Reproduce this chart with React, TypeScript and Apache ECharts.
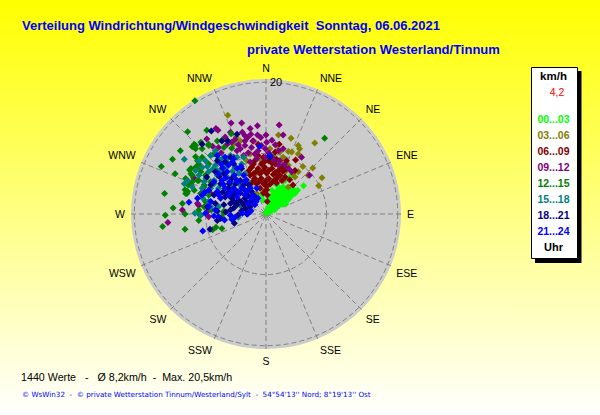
import React, { useEffect, useRef } from "react";
import * as echarts from "echarts";

const DIRECTIONS = ["N","NNE","NE","ENE","E","ESE","SE","SSE","S","SSW","SW","WSW","W","WNW","NW","NNW"];
const RINGS = [9.2, 20];
const RADIUS_LABELS = [20];
const TITLE = "Verteilung Windrichtung/Windgeschwindigkeit  Sonntag, 06.06.2021";
const SUBTITLE = "private Wetterstation Westerland/Tinnum";
const STATS = "1440 Werte   -   Ø 8,2km/h  -  Max. 20,5km/h";
const FOOTER = "© WsWin32  -  © private Wetterstation Tinnum/Westerland/Sylt  -  54°54'13'' Nord; 8°19'13'' Ost";

// Wind vectors: [east, north] in km/h
const h00_03 = [[0,0.1],[0.2,0.6],[0.4,1.1],[0.9,0.6],[0.6,1.7],[1.1,1.2],[1.6,1.7],[1.2,2.2],[2.1,2.1],[1.9,2.7],[2.5,2.6],[2.9,3.2],[2.2,3.3],[3.4,2.9],[3.7,3.4],[4.4,3.5],[3.1,3.9],[2.6,4.1],[1.6,3.4],[1,2.9],[0.6,2.4],[2.1,3.9],[1.5,0.9],[2.7,1.9],[3.4,2.2],[4.8,3.6],[5.7,4.3],[3.7,5.7],[2.9,5.1],[-1,5.1],[-0.6,2.9],[-0.4,2.1],[1.6,4.4],[1.3,1.7],[2,1.3],[2.4,3],[3.1,2.5],[3.9,2.9],[1.5,2.4],[1.0,1.9],[0.9,3.6],[1.9,3.1],[3.3,3.5],[4.1,3.1],[2.9,2.0],[4,3.9],[1.2,2.9],[1.8,2.2],[2.4,1.5],[3,1.5],[0.8,1.3],[1.3,0.6],[2.2,2.5],[2.8,3.5],[4.4,3.1],[3.7,2.6],[0.5,0.3]];
const h03_06 = [[3.8,11.5],[7.4,10.8],[1.9,12],[4.9,10.4],[5.1,9.9],[3.4,9.5],[3.9,9.4],[4.9,9.1],[1.7,10.4],[2.1,9.4],[1.1,8.9],[5.6,7.2],[7.1,7],[6.4,5.9],[8.5,5.5],[8,4.3],[4.9,6.4],[3.4,7.4],[4.1,6.1],[2.4,7.6],[2.9,6.4],[3.4,4.1],[-5.8,15],[-4.5,11.6],[-4.9,10.6],[-3.9,11.1],[2.6,8.6],[1.6,8.1],[-2.2,7.1],[-1.8,5.9],[-2.9,8.1],[0.6,9.9],[-0.7,8.1],[1.9,5.9],[4.4,5.6],[-2.4,9.1],[3.1,7.6],[2.6,5.1],[-1.4,3.1],[-0.2,3.6]];
const h06_09 = [[0.2,1.9],[4.1,4.4],[4.5,8.2],[2,10.6],[-2,11.1],[-1.2,10.6],[3.1,6.9],[-1.7,8.1],[-0.7,7.6],[0.4,8.1],[1.4,7.6],[2.4,7.1],[-2.2,7.1],[-1.2,6.9],[-0.2,7.1],[0.9,6.9],[1.9,6.6],[-1.9,6.1],[-0.9,6.1],[0.1,6.2],[1.1,6],[2.1,5.9],[-1.7,5.4],[-0.7,5.4],[0.4,5.4],[1.4,5.2],[-1.4,4.6],[-0.4,4.6],[0.6,4.5],[1.6,4.7],[-0.9,3.9],[0.1,3.7],[0.2,2.9],[-1.9,7.6],[2.4,5.1],[2.9,5.6],[-2.4,5.9],[-2.6,6.6],[-0.4,8.6],[1.4,9.4],[0.6,8.9],[-1.2,8.9],[-2.3,4.6],[3.1,8.1],[1.6,8.3],[4.4,6.6],[-0.4,6.6],[0.4,6.6],[1.4,6.3],[-1.4,6.5],[-1,5],[0,5],[1,4.9],[0.1,4.2],[-0.4,3.2],[1.7,5.5],[2.6,6.5],[-0.3,7.9],[0.9,7.7],[3.6,5.2],[-1.9,5]];
const h09_12 = [[-5.3,13.8],[-3.7,13.8],[-1.3,13.4],[2,13.5],[-7.6,13],[-7.3,12.7],[-9,11.4],[-3.2,11.9],[-2.8,11.6],[-2.4,13],[-1.3,12],[0,12],[2.6,12],[0.9,11.2],[0.1,10.9],[1.9,9.6],[5.4,8.6],[-0.1,9.9],[-1.2,9.6],[-2.2,10.1],[-3.2,10.4],[-3.9,9.9],[-5.2,10.9],[-5.9,10.6],[-7.2,10.1],[-5.4,12.4],[2.1,8.1],[3.9,6.4],[6.6,5.9],[-12.7,0.6],[-14.9,-1.3],[-10.2,1.3],[-8.7,-0.4],[-11,5.5],[0.9,8.6],[-0.1,8.6],[-1.4,8.4],[-2.4,7.9],[-3.4,8.9],[-4.4,9.6],[-3.2,11.1],[-1.9,11.1],[1.9,7.4],[2.6,9.9],[3.4,6.9],[-4.9,8.6],[-8.4,3.1],[-10.4,1.6],[-8.9,0.4],[-6.4,8.1],[-6.2,11.7],[-4.7,11.3],[-3.6,12.4],[-2.3,12.1],[-0.8,11.6],[1.4,10.5],[-0.7,10.4],[-2.7,9.3],[-1.7,9.1],[0.4,9.3],[1.2,8.2],[2.8,7.5],[-6.8,9.3],[-8.1,10.3],[-4.2,10.5]];
const h12_15 = [[-10.8,17.2],[8.9,11.5],[-11.9,12.5],[-9,12.7],[-13,9.6],[-14.2,8.3],[-15.9,7.2],[-13.8,6.1],[-15.4,3.1],[-14.1,0.9],[-15.3,-0.2],[-15.7,-1.9],[-12.3,3.7],[-12.3,-2.3],[-12.7,1.6],[-12.3,0],[-10.2,-1],[-7.6,-2],[-8.1,-2.4],[-6.7,-2.2],[-6.7,-0.5],[-6.4,0.2],[-8.3,0.6],[-9.9,-0.2],[-10.9,10.6],[-10.7,9.9],[-9.9,10.9],[-8.7,10.4],[-7.4,11.1],[-6.7,11.2],[-5.3,12.2],[-11.4,6.9],[-11.2,5.9],[-10.2,7.6],[-9.7,8.6],[-9.9,6.4],[-10.2,5.1],[-11.4,4.4],[-11.9,3.4],[-10.9,3.6],[-9.4,4.4],[-9.2,5.9],[-8.7,7.6],[-7.9,9.1],[-6.4,10.1],[-5.2,10],[-9.9,3.1],[-9.2,1.9],[-10.2,0.6],[-9.4,1.1],[-8.7,2.9],[-8.4,4.9],[-7.2,8.4],[-10.7,7.1],[-12,3.1],[-9.7,9.9],[-10.7,10.4],[-11.2,10.2],[-10.7,8.7],[-11.6,6.7],[-11.4,6.1],[-12.2,5.4],[-11.8,4.4],[-11.2,4.9],[-12.2,3.1],[-10.4,8.1],[-9.9,6.9],[-10.4,5.1],[-9.4,4.1],[-8.7,10.6],[-8.4,8.9],[-9.9,3.1],[-10.2,0.1],[-6.4,0.4]];
const h15_18 = [[-12.4,8.3],[-10.8,0.1],[-10,-0.2],[-4.2,-0.5],[-10.2,8.1],[-9.7,7.1],[-9.2,8.1],[-8.4,8.9],[-7.7,9.6],[-6.4,8.6],[-5.4,8.9],[-4.4,8.6],[-8.7,6.4],[-7.7,7.4],[-6.9,6.6],[-5.7,7.6],[-4.7,7.1],[-3.7,7.6],[-3.2,6.1],[-7.9,5.1],[-7.2,3.9],[-8.4,3.9],[-9.4,4.9],[-5.9,5.6],[-4.9,5.9],[-8.7,1.9],[-9.6,2.4],[-9.2,3.2],[-2.4,4.1],[-3.9,4.4],[-6.2,3.9],[-2.2,1.6],[-3.7,1.1],[-7.2,1.1],[-10.2,5.9],[-9.7,3.9],[-5.2,4.4],[-2.8,4.9],[-7.4,5.9],[-3.4,8.6],[-10.7,6.6],[-8.4,1.1],[-4.7,3.1],[-5.4,-0.2],[-11.9,5.1],[-12.4,4.6],[-11.2,4.1],[-7.2,8.4],[-7.4,6.6],[-6.7,7.6],[-7.9,4.6],[-6.9,8.1],[-6,8.3],[-8.9,7.2],[-8.1,6.8],[-6.3,6.9],[-5.1,6.5],[-4.1,6.2],[-9.1,5.4],[-6.6,4.6],[-5.4,4.9]];
const h18_21 = [[-8.5,-2.3],[-4.8,-1.4],[-7.4,-1],[-6.9,-0.7],[-8.3,12.6],[-4.4,12.1],[-5.8,11.1],[-6.7,11.1],[-9.7,10.6],[-7.4,8.1],[-6.2,7.9],[-4.9,7.6],[-3.7,6.9],[-7.7,6.4],[-6.4,6.1],[-5.2,5.4],[-3.9,5.1],[-6.9,4.6],[-8.4,4.4],[-5.7,3.9],[-4.4,3.4],[-3.2,3.6],[-2.2,3.4],[-6.2,2.6],[-5.2,2.4],[-4.2,2.1],[-3.2,2.4],[-2.2,2.1],[-1.7,2.6],[-5.4,1.6],[-4.4,1.4],[-3.4,1.4],[-2.4,1.1],[-6.4,1.4],[-7.7,1.6],[-8.9,1.1],[-7.4,0.4],[-5.4,0.6],[-3.7,0.5],[-2.9,0],[-7.9,2.9],[0.6,8.6],[-5.4,8.6],[-9,5.6],[-2.6,4.4],[-5.9,3.1],[-4.9,2.9],[-3.9,3.2],[-2.7,2.8],[-1.9,1.8],[-4.9,1.9],[-3.8,1.9],[-2.9,1.8],[-4.9,0.9],[-3.1,0.8],[-6.6,3.3],[-5.6,4.6],[-4.6,4.6],[-7.1,5.7],[-3.4,4.4],[-6.1,0.3],[-4.2,-0.1],[-2.4,0.4]];
const h21_24 = [[-11.7,1.8],[-9.6,-2.6],[-4.7,-0.5],[-8.7,1.1],[-7.7,0.6],[-5.2,-0.8],[-5.4,-0.2],[-9.7,2.9],[-10.4,2.4],[-1,10.3],[0.6,8.9],[-2.8,0],[-7.4,8.9],[-6.2,8.6],[-4.9,8.4],[-6.8,7.6],[-5.7,7.4],[-4.4,6.9],[-7.2,6.1],[-5.9,6.4],[-4.8,5.9],[-3.4,5.9],[-7.9,4.9],[-6.7,5.1],[-5.5,4.9],[-4.3,4.9],[-3.2,4.9],[-8.7,3.6],[-7.4,3.4],[-6.2,3.9],[-4.9,3.9],[-3.7,3.9],[-2.4,3.9],[-6.9,2.4],[-5.7,2.9],[-4.4,2.6],[-3.2,2.9],[-1.9,2.9],[-1.2,2.4],[-8.4,1.9],[-2.7,1.6],[-1.7,1.4],[-7.2,-0.4],[-9.2,0.1],[-9.3,3.3],[-1.4,3.9],[-6.6,7],[-5.1,7.9],[-3.8,7.2],[-6.1,5.5],[-4.5,5.2],[-3,5.2],[-6.5,4.5],[-5.3,3.4],[-4.2,3.3],[-2.9,3.5],[-7.2,2.9],[-2.3,2.4],[-1.5,1.9],[-3.6,0.1],[-2.3,0.5],[-7.9,-0.3],[-6.3,-0.9]];

const HOURS: [string, string, number[][]][] = [
  ["00...03", "#00ff00", h00_03],
  ["03...06", "#808000", h03_06],
  ["06...09", "#800000", h06_09],
  ["09...12", "#800080", h09_12],
  ["12...15", "#008000", h12_15],
  ["15...18", "#008080", h15_18],
  ["18...21", "#000080", h18_21],
  ["21...24", "#0000ff", h21_24],
];

const FONT = "Liberation Sans";

function toPolar([east, north]: number[]) {
  const speed = Math.hypot(east, north);
  const dir = ((Math.atan2(east, north) * 180) / Math.PI + 360) % 360;
  return [speed, dir];
}

export default function App() {
  const ref = useRef<HTMLDivElement>(null);
  useEffect(() => {
    document.body.style.margin = "0";
    const chart = echarts.init(ref.current!, undefined, { renderer: "svg" });
    const legendRows: any[] = HOURS.map(([label, color], i) => ({
      type: "text", x: 553.5, y: 119 + i * 16,
      style: { text: label, fill: color, font: `bold 10.5px "${FONT}"`, textAlign: "center", textVerticalAlign: "middle" },
    }));
    chart.setOption({
      animation: false,
      backgroundColor: { type: "linear", x: 0, y: 0, x2: 0, y2: 1, colorStops: [{ offset: 0, color: "#ffff00" }, { offset: 1, color: "#ffffff" }] },
      polar: { center: [266, 214], radius: 135 },
      angleAxis: {
        type: "value", min: 0, max: 360, interval: 22.5, startAngle: 90, clockwise: true,
        axisLine: { show: false }, axisTick: { show: false },
        splitLine: { show: true, lineStyle: { color: "#808080", type: [5, 3], width: 1 } },
        axisLabel: {
          margin: 6, color: "#000", fontFamily: FONT, fontSize: 10.5,
          formatter: (v: number) => DIRECTIONS[Math.round(v / 22.5) % 16],
        },
      },
      radiusAxis: {
        type: "value", min: 0, max: 20.5,
        axisLine: { show: false },
        axisTick: { show: false, customValues: RINGS },
        axisLabel: { customValues: RADIUS_LABELS, color: "#000", fontFamily: FONT, fontSize: 11, margin: -4, align: "left", formatter: (v: number) => String(v) },
        splitLine: { show: true, lineStyle: { color: "#808080", type: [5, 3], width: 1 } },
      },
      tooltip: { show: false },
      series: [
        { type: "scatter", coordinateSystem: "polar", silent: true, symbol: "rect", symbolSize: 5, itemStyle: { color: "#808080" }, data: [[0, 0]] },
        ...HOURS.map(([name, color, pts]) => ({
          name, type: "scatter", coordinateSystem: "polar", silent: true, symbol: "diamond", symbolSize: 7,
          itemStyle: { color, opacity: 1 }, data: pts.map(toPolar),
        })),
      ],
      graphic: [
        { type: "circle", z: -1, shape: { cx: 266, cy: 214, r: 135 }, style: { fill: "#cccccc" } },
        { type: "text", x: 22, y: 25, style: { text: TITLE, fill: "#0000ff", font: `bold 13px "${FONT}"`, textVerticalAlign: "middle" } },
        { type: "text", x: 247, y: 49, style: { text: SUBTITLE, fill: "#0000ff", font: `bold 13px "${FONT}"`, textVerticalAlign: "middle" } },
        { type: "text", x: 21, y: 377, style: { text: STATS, fill: "#000", font: `10.7px "${FONT}"`, textVerticalAlign: "middle" } },
        { type: "text", x: 22, y: 394, style: { text: FOOTER, fill: "#0000ff", font: `7.2px "DejaVu Sans"`, textVerticalAlign: "middle" } },
        { type: "rect", shape: { x: 535, y: 71, width: 46.5, height: 192 }, style: { fill: "#000" } },
        { type: "rect", shape: { x: 531.5, y: 67.5, width: 46, height: 191 }, style: { fill: "#fff", stroke: "#000", lineWidth: 1 } },
        { type: "text", x: 553.5, y: 76, style: { text: "km/h", fill: "#000", font: `bold 11.5px "${FONT}"`, textAlign: "center", textVerticalAlign: "middle" } },
        { type: "text", x: 557, y: 92, style: { text: "4,2", fill: "#ff0000", font: `10.5px "${FONT}"`, textAlign: "center", textVerticalAlign: "middle" } },
        ...legendRows,
        { type: "text", x: 553.5, y: 247, style: { text: "Uhr", fill: "#000", font: `bold 11px "${FONT}"`, textAlign: "center", textVerticalAlign: "middle" } },
      ],
    });
    return () => chart.dispose();
  }, []);
  return <div ref={ref} style={{ position: "absolute", left: 0, top: 0, width: 600, height: 415 }} />;
}
